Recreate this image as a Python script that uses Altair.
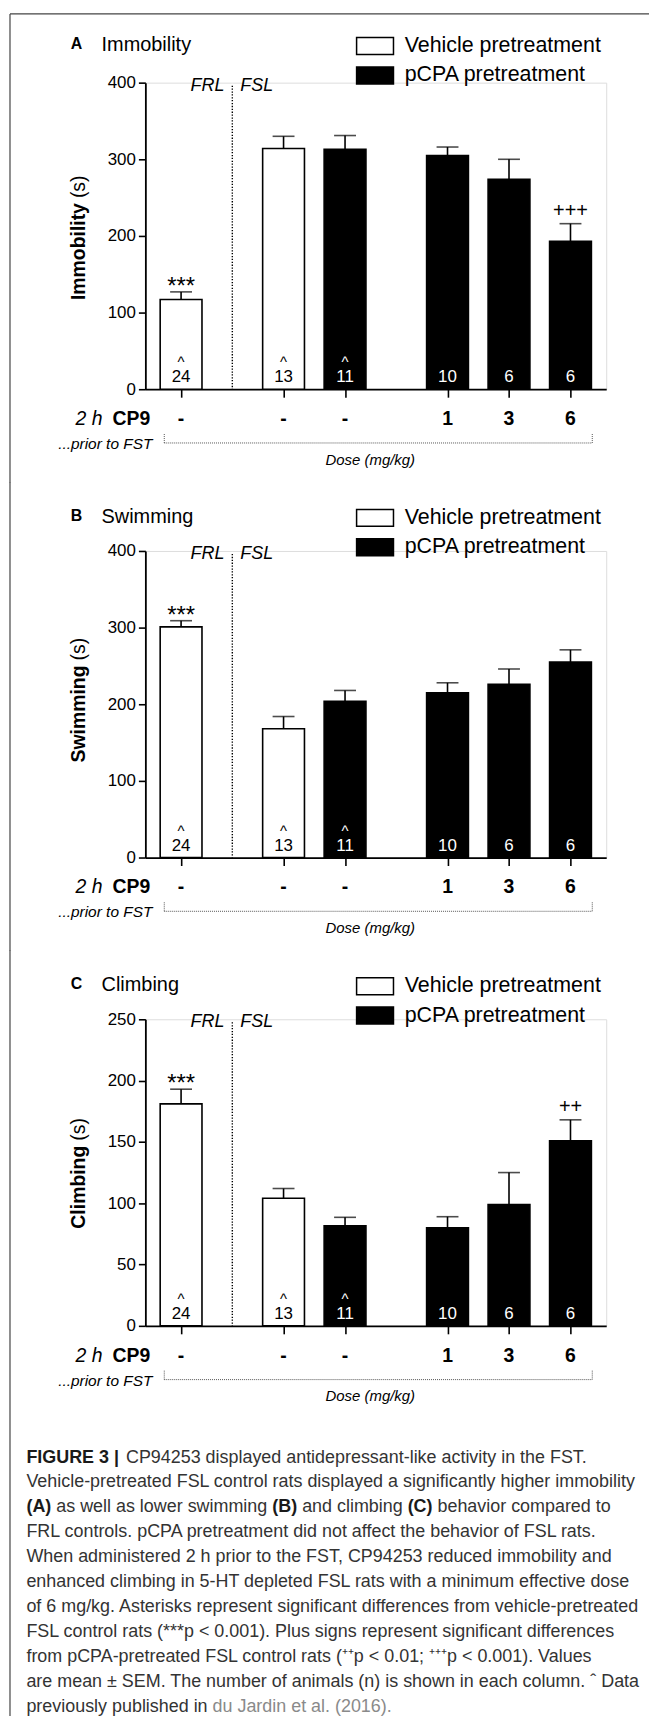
import altair as alt
import pandas as pd

# ---------------- data ----------------
strain = ["FRL", "FSL", "FSL", "FSL", "FSL", "FSL"]
pretreatment = ["Vehicle pretreatment", "Vehicle pretreatment", "pCPA pretreatment",
                "pCPA pretreatment", "pCPA pretreatment", "pCPA pretreatment"]
cp9_dose = ["-", "-", "-", "1", "3", "6"]
n_animals = [24, 13, 11, 10, 6, 6]
previously_published = [True, True, True, False, False, False]
bar_block = [0, 1, 1, 2, 2, 2]

immobility_mean = [117, 314, 313, 305, 274, 193]
immobility_sem = [10, 16, 18, 11, 26, 23]
immobility_sig = ["***", "", "", "", "", "+++"]

swimming_mean = [301, 168, 204, 215, 226, 255]
swimming_sem = [8, 16, 14, 13, 20, 16]
swimming_sig = ["***", "", "", "", "", ""]

climbing_mean = [181, 104, 81.5, 80, 99, 151]
climbing_sem = [12, 8, 7, 9, 26, 17]
climbing_sig = ["***", "", "", "", "", "++"]

ticks_400 = [0, 100, 200, 300, 400]
ticks_250 = [0, 50, 100, 150, 200, 250]

legend_labels = ["Vehicle pretreatment", "pCPA pretreatment"]
legend_fills = ["white", "black"]

caption_lines = [
    [("FIGURE 3 |", "bold"), ("CP94253 displayed antidepressant-like activity in the FST.", "normal")],
    [("Vehicle-pretreated FSL control rats displayed a significantly higher immobility", "normal")],
    [("(A)", "bold"), ("as well as lower swimming", "normal"), ("(B)", "bold"),
     ("and climbing", "normal"), ("(C)", "bold"), ("behavior compared to", "normal")],
    [("FRL controls. pCPA pretreatment did not affect the behavior of FSL rats.", "normal")],
    [("When administered 2 h prior to the FST, CP94253 reduced immobility and", "normal")],
    [("enhanced climbing in 5-HT depleted FSL rats with a minimum effective dose", "normal")],
    [("of 6 mg/kg. Asterisks represent significant differences from vehicle-pretreated", "normal")],
    [("FSL control rats (***p < 0.001). Plus signs represent significant differences", "normal")],
    [("from pCPA-pretreated FSL control rats (\u207a\u207ap < 0.01; \u207a\u207a\u207ap < 0.001). Values", "normal")],
    [("are mean \u00b1 SEM. The number of animals (n) is shown in each column. \u02c6 Data", "normal")],
    [("previously published in", "normal"), ("du Jardin et al. (2016).", "link")],
]
# page x of each caption segment (layout)
caption_x = [
    [25, 125],
    [25],
    [25, 55, 272, 302, 408, 438],
    [25], [25], [25], [25], [25], [25], [25],
    [25, 212],
]

# ---------------- layout ----------------
FONT = "Liberation Sans"
W, H = 463, 308
LEFT_PAGE = 144.5
FRAME = "#444444"
slots = [1.5 + 3 * i + 2 * b for i, b in enumerate(bar_block)]
XMAX = slots[-1] + 1.5
divider = (slots[0] + slots[1]) / 2


def xenc(field="pos"):
    return alt.X(f"{field}:Q", scale=alt.Scale(domain=[0, XMAX], nice=False, zero=False),
                 axis=alt.Axis(values=slots, labels=False, title=None, tickSize=8, tickWidth=1.6,
                               domainWidth=1.8, domainColor="black", tickColor="black", grid=False))


def yenc(field, ymax, yticks):
    return alt.Y(f"{field}:Q", scale=alt.Scale(domain=[0, ymax], nice=False),
                 axis=alt.Axis(values=yticks, title=None, tickSize=7, tickWidth=1.6, domainWidth=1.8,
                               domainColor="black", tickColor="black", labelFontSize=17,
                               labelColor="black", labelPadding=3, grid=False, labelFont=FONT))


def label(text, x, y, **kw):
    style = dict(font=FONT, fontSize=18, color="black", align="left", baseline="alphabetic")
    style.update(kw)
    return alt.Chart(pd.DataFrame({"t": [text]})).mark_text(**style).encode(
        x=alt.value(x), y=alt.value(y), text="t:N")


def rule(x, y, x2=None, y2=None, **kw):
    style = dict(color="black", strokeWidth=1)
    style.update(kw)
    enc = dict(x=alt.value(x), y=alt.value(y))
    if x2 is not None:
        enc["x2"] = alt.value(x2)
    if y2 is not None:
        enc["y2"] = alt.value(y2)
    return alt.Chart(pd.DataFrame({"d": [0]})).mark_rule(**style).encode(**enc)


def panel(letter, name, mean, sem, sig, ymax, yticks, shift, boundary, frame_bottom,
          top_frame=False, caption=False):
    df = pd.DataFrame({
        "pos": slots, "mean": mean, "sem": sem,
        "err": [m + s for m, s in zip(mean, sem)],
        "n": [str(v) for v in n_animals], "pretreat": pretreatment,
        "prev": previously_published, "dose": cp9_dose, "sig": sig, "strain": strain,
    })
    base = alt.Chart(df)
    legend = alt.Legend(
        orient="none", legendX=220, legendY=-44 + shift, title=None,
        symbolType="M-2.18,-1L2.18,-1L2.18,1L-2.18,1Z", symbolSize=289,
        symbolStrokeColor="black", symbolStrokeWidth=1.5, symbolOpacity=1,
        labelFont=FONT, labelFontSize=21.5, labelColor="black", labelOffset=19,
        rowPadding=5.5, padding=0, labelLimit=400, direction="vertical")
    bars = base.mark_bar(size=42, stroke="black", strokeWidth=1.6).encode(
        x=xenc(), y=yenc("mean", ymax, yticks),
        fill=alt.Fill("pretreat:N", scale=alt.Scale(domain=legend_labels, range=legend_fills),
                      legend=legend))
    err = base.mark_rule(color="black", strokeWidth=1.6).encode(
        x=xenc(), y=yenc("mean", ymax, yticks), y2="err:Q")
    cap = base.mark_tick(orient="horizontal", size=22, thickness=1.6, color="black").encode(
        x=xenc(), y=yenc("err", ymax, yticks))
    nlab = base.mark_text(font=FONT, fontSize=17, baseline="alphabetic").encode(
        x=xenc(), y=alt.value(301), text="n:N",
        color=alt.condition(alt.datum.pretreat == "pCPA pretreatment",
                            alt.value("white"), alt.value("black")))
    caret = base.transform_filter(alt.datum.prev).mark_text(
        text="^", font=FONT, fontSize=15, baseline="alphabetic").encode(
        x=xenc(), y=alt.value(286),
        color=alt.condition(alt.datum.pretreat == "pCPA pretreatment",
                            alt.value("white"), alt.value("black")))
    stars = base.transform_filter("indexof(datum.sig, '*') >= 0").mark_text(
        font=FONT, fontSize=24, baseline="alphabetic", dy=2, color="black").encode(
        x=xenc(), y=yenc("err", ymax, yticks), text="sig:N")
    plus = base.transform_filter("indexof(datum.sig, '+') >= 0").mark_text(
        font=FONT, fontSize=20, baseline="alphabetic", dy=-7, color="black").encode(
        x=xenc(), y=yenc("err", ymax, yticks), text="sig:N")
    doses = base.mark_text(font=FONT, fontSize=19.5, fontWeight="bold", baseline="alphabetic",
                           color="black").encode(x=xenc(), y=alt.value(344), text="dose:N")

    div_df = pd.DataFrame({"pos": [divider]})
    div_line = alt.Chart(div_df).mark_rule(strokeDash=[1.3, 1.6], strokeWidth=1.4, color="black").encode(
        x=xenc(), y=alt.value(3), y2=alt.value(H))
    frl = alt.Chart(div_df).mark_text(text="FRL", font=FONT, fontSize=18, fontStyle="italic",
                                      align="right", dx=-8, baseline="alphabetic", color="black").encode(
        x=xenc(), y=alt.value(8))
    fsl = alt.Chart(div_df).mark_text(text="FSL", font=FONT, fontSize=18, fontStyle="italic",
                                      align="left", dx=8, baseline="alphabetic", color="black").encode(
        x=xenc(), y=alt.value(8))

    layers = [bars, err, cap, nlab, caret, stars, plus, doses, div_line, frl, fsl]

    # header and axis title
    layers += [
        label(letter, -75, -30.5 + shift, fontWeight="bold", fontSize=16),
        label(name, -44, -28.5 + shift, fontSize=20),
        label(name, -61, boundary, fontWeight="bold", fontSize=19.5, angle=270, align="right"),
        label("(s)", -61, boundary, fontSize=19.5, angle=270, align="left", dx=5),
        label("2 h", -43, 344, fontSize=19.5, fontStyle="italic", align="right"),
        label("CP9", 5, 344, fontSize=19.5, fontWeight="bold", align="right"),
        label("...prior to FST", 7, 368, fontSize=15.5, fontStyle="italic", align="right"),
        label("Dose (mg/kg)", 226, 384, fontSize=15, fontStyle="italic", align="center"),
    ]
    # bracket under the dose row
    layers += [
        rule(19, 362, x2=449, strokeDash=[1, 1], color="#555"),
        rule(19, 353, y2=362, strokeDash=[1, 1], color="#555"),
        rule(449, 353, y2=362, strokeDash=[1, 1], color="#555"),
    ]
    # figure frame
    layers.append(rule(-136, -69, y2=frame_bottom, color=FRAME, strokeWidth=1.2))
    if top_frame:
        layers.append(rule(-136, -69, x2=506, color=FRAME, strokeWidth=1.2))
    if caption:
        for i, (segs, xs) in enumerate(zip(caption_lines, caption_x)):
            yb = 445.3 + 25.08 * i
            for (txt, kind), px in zip(segs, xs):
                kw = dict(fontSize=18, color="#333333")
                if kind == "bold":
                    kw.update(fontWeight="bold", color="#1a1a1a")
                elif kind == "link":
                    kw.update(color="#8a8a8a")
                layers.append(label(txt, px - LEFT_PAGE, yb, **kw))
    return alt.layer(*layers).properties(width=W, height=H)


pA = panel("A", "Immobility", immobility_mean, immobility_sem, immobility_sig, 400, ticks_400,
           -3.5, 121, 402, top_frame=True)
pB = panel("B", "Swimming", swimming_mean, swimming_sem, swimming_sig, 400, ticks_400,
           0, 115, 402)
pC = panel("C", "Climbing", climbing_mean, climbing_sem, climbing_sig, 250, ticks_250,
           0, 127, 700, caption=True)

chart = alt.vconcat(pA, pB, pC, spacing=162.5, bounds="flush").resolve_scale(
    fill="independent").properties(padding=0).configure_view(stroke=None).configure(font=FONT)

chart.save("out.html", embed_options={"renderer": "svg", "actions": False})
